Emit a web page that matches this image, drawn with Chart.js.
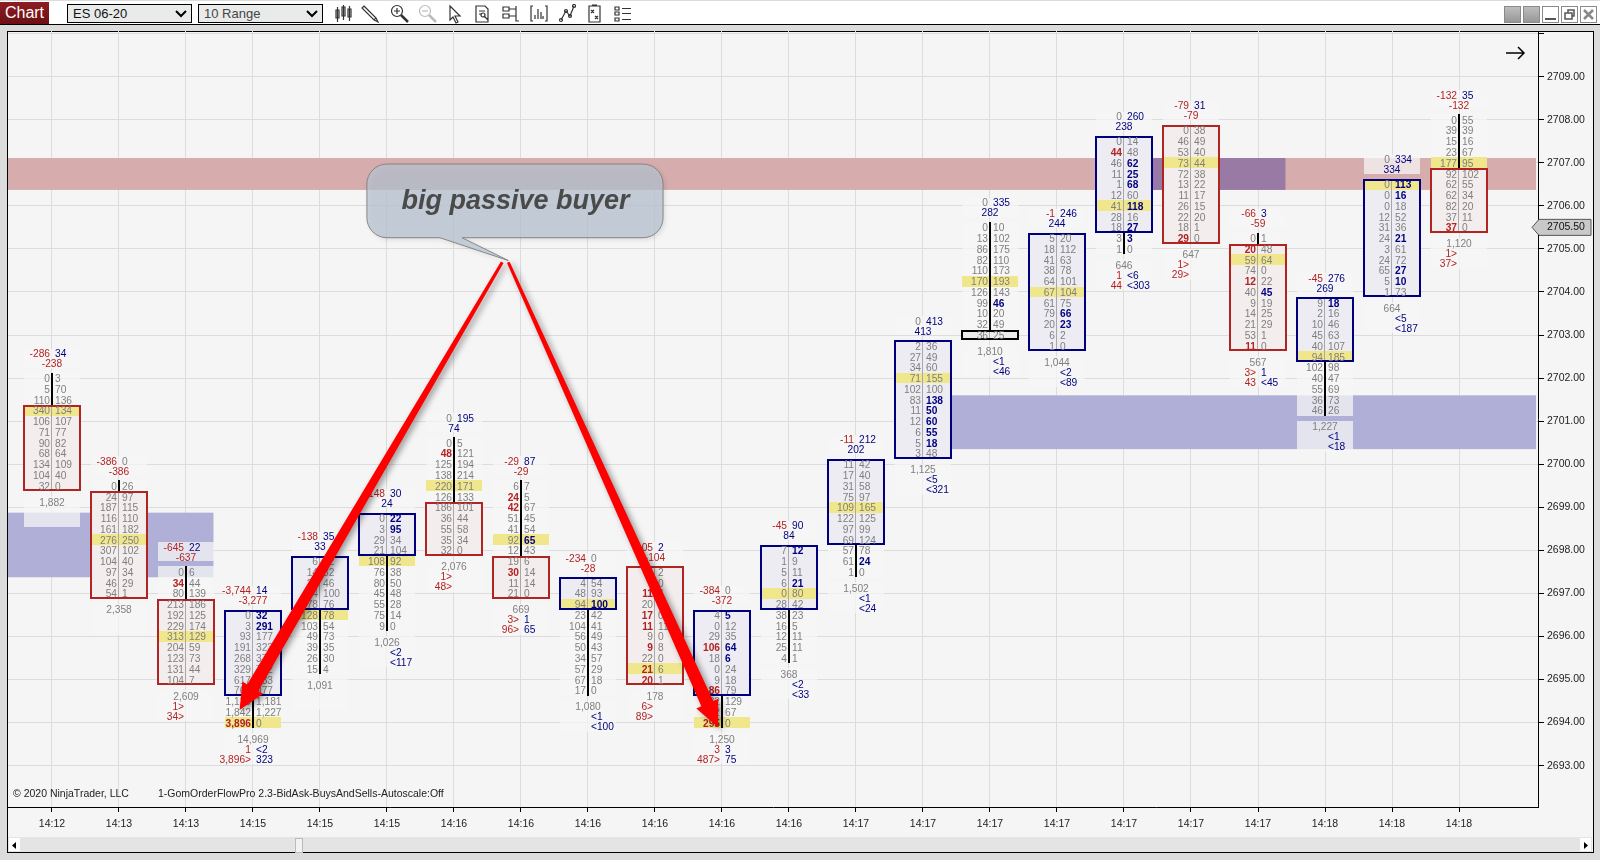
<!DOCTYPE html>
<html>
<head>
<meta charset="utf-8">
<title>ES 06-20 order flow</title>
<script src="https://cdn.jsdelivr.net/npm/chart.js@4"></script>
<style>
  html, body { margin: 0; width: 1600px; height: 860px; overflow: hidden; background: #dcdcdc; font-family: "Liberation Sans", Arial, sans-serif; }
  #toolbar { position: absolute; left: 0; top: 1px; width: 1600px; height: 23px; background: #fff; border-bottom: 1px solid #000; }
  #tab { position: absolute; left: 0; top: 1px; width: 49px; height: 22px; background: linear-gradient(#8e1c22, #6c1013); color: #fff; font-size: 16px; line-height: 22px; text-align: center; }
  .pick { position: absolute; top: 3px; width: 123px; height: 17px; border: 1px solid #000; background: #e9ebeb; font-size: 13px; line-height: 18px; text-indent: 5px; color: #111; }
  .pick svg { position: absolute; right: 4px; top: 5px; }
  .tool { position: absolute; top: 3px; }
  .tool * { fill: none; stroke: #333; stroke-width: 1.2; }
  .win { position: absolute; top: 5px; width: 15px; height: 15px; border: 1px solid #8a8a8a; background: #fff; }
  .win.grey { background: linear-gradient(#bdbdbd, #989898); }
  #panel { position: absolute; left: 7px; top: 31px; width: 1585px; height: 820px; background: #f5f5f5; border: 1px solid #000; }
  #scroll { position: absolute; left: 8px; top: 837px; width: 1584px; height: 15px; background: #e4e4e4; }
  .sbtn { position: absolute; top: 1px; width: 11px; height: 13px; background: #fff; }
  #thumb { position: absolute; left: 287px; top: 1px; width: 6px; height: 13px; background: #f2f2f2; border: 1px solid #bbb; }
  canvas { position: absolute; left: 0; top: 0; }
</style>
</head>
<body>
<div id="toolbar">
  <div id="tab">Chart</div>
  <div class="pick" style="left:67px">ES 06-20<svg width="12" height="8"><path d="M1 1 L6 6 L11 1" fill="none" stroke="#000" stroke-width="2"/></svg></div>
  <div class="pick" style="left:198px;color:#444">10 Range<svg width="12" height="8"><path d="M1 1 L6 6 L11 1" fill="none" stroke="#000" stroke-width="2"/></svg></div>
  <svg class="tool" style="left:334px" width="18" height="20"><path d="M2 6h3v8h-3zM3.500 3v15M8 3h3v9h-3zM9.500 1v15M14 5h3v8h-3zM15.500 2v15"/></svg>
  <svg class="tool" style="left:360px" width="20" height="20"><path d="M4 2l12 12-2 2-12-12zM14 16l4 2-2-4"/></svg>
  <svg class="tool" style="left:390px" width="20" height="20"><circle cx="7" cy="7" r="5.500"/><path d="M4 7h6M7 4v6"/><path d="M11 11l7 7" style="stroke-width:2.500"/></svg>
  <svg class="tool" style="left:418px" width="20" height="20"><circle cx="7" cy="7" r="5.500" style="stroke:#bbb"/><path d="M4 7h6" style="stroke:#bbb"/><path d="M11 11l7 7" style="stroke:#bbb;stroke-width:2.500"/></svg>
  <svg class="tool" style="left:447px" width="16" height="20"><path d="M3 2v14l3-3 3 6 2-1-3-6h5z"/></svg>
  <svg class="tool" style="left:474px" width="18" height="20"><path d="M2 2h9l3 3v13h-12zM5 7h6M5 10h3M10 12l4 4"/><circle cx="9" cy="11" r="2"/></svg>
  <svg class="tool" style="left:502px" width="18" height="20"><path d="M1 3h6v4h-6zM1 10h6v4h-6zM7 5h7M7 12h7M14 2v15h3"/></svg>
  <svg class="tool" style="left:530px" width="18" height="20"><path d="M3 2h-2v15h2M15 2h2v15h-2M5 15v-4M8 15v-10M11 15v-7M13 15v-3"/></svg>
  <svg class="tool" style="left:558px" width="18" height="20"><path d="M3 16l5-9 4 5 4-10"/><circle cx="3" cy="16" r="1.500"/><circle cx="8" cy="7" r="1.500"/><circle cx="12" cy="12" r="1.500"/><circle cx="16" cy="2" r="1.500"/></svg>
  <svg class="tool" style="left:587px" width="16" height="20"><path d="M2 2h11v16h-11zM5 1h5M4 6l3 3M7 6l-3 3M8 12l3 3M11 12l-3 3"/></svg>
  <svg class="tool" style="left:614px" width="18" height="20"><path d="M1 3h4v3h-4zM1 8h4v3h-4zM1 14h4v3h-4zM8 4.500h9M8 9.500h9M8 15.500h9"/></svg>
  <div class="win grey" style="left:1504px"></div>
  <div class="win grey" style="left:1523px"></div>
  <div class="win" style="left:1542px"><svg width="15" height="15"><path d="M2 12h11" stroke="#555" stroke-width="2"/></svg></div>
  <div class="win" style="left:1561px"><svg width="15" height="15"><path d="M3 6h7v6h-7zM6 6v-3h6v6h-2" fill="none" stroke="#555" stroke-width="1.500"/></svg></div>
  <div class="win" style="left:1580px"><svg width="15" height="15"><path d="M3 3l9 9M12 3l-9 9" stroke="#888" stroke-width="2.500"/></svg></div>
</div>
<div id="panel"></div>
<div id="scroll">
  <div class="sbtn" style="left:1px"><svg width="11" height="13"><path d="M7 3v7l-4-3.500z" fill="#000"/></svg></div>
  <div id="thumb"></div>
  <div class="sbtn" style="right:1px"><svg width="11" height="13"><path d="M4 3v7l4-3.500z" fill="#000"/></svg></div>
</div>
<canvas id="chart" width="1600" height="860"></canvas>
<script>
const timeLabels = ['14:12','14:13','14:13','14:15','14:15','14:15','14:16','14:16','14:16','14:16','14:16','14:16','14:17','14:17','14:17','14:17','14:17','14:17','14:17','14:18','14:18','14:18'];
const priceTicks = [2693,2694,2695,2696,2697,2698,2699,2700,2701,2702,2703,2704,2705,2706,2707,2708,2709,2710];
const currentPrice = 2705.5;

// price of the first row of each bar
const topPrice = [2702,2699.5,2697.5,2696.5,2697.75,2698.75,2700.5,2699.5,2697.25,2697.5,2696.5,2698,2700,2702.75,2705.5,2705.25,2707.5,2707.75,2705.25,2703.75,2706.5,2708];

const bidRows = [
  [0,5,110,340,106,71,90,68,134,104,32],
  [0,24,187,116,161,276,307,104,97,46,54],
  [0,34,80,213,192,229,313,204,123,131,104],
  [0,3,93,191,268,329,617,765,1120,1842,3896],
  [6,14,23,64,78,128,103,49,39,26,15],
  [0,3,29,21,108,76,80,45,55,75,9],
  [0,48,125,138,220,126,186,36,55,35,32],
  [6,24,42,51,41,92,12,19,30,11,21],
  [4,48,94,23,104,56,50,34,57,67,17],
  [5,7,11,20,17,11,9,9,22,21,20],
  [4,0,29,106,18,0,9,86,32,12,295],
  [7,1,5,6,0,28,38,16,12,25,4],
  [11,17,31,75,109,122,97,69,57,61,1],
  [2,27,34,71,102,83,11,12,6,5,3],
  [0,13,86,82,110,170,126,99,10,32,36],
  [5,18,41,38,64,67,61,79,20,6,1],
  [0,44,46,11,1,12,41,28,18,3,1],
  [0,46,53,73,72,13,11,26,22,18,29],
  [0,20,59,74,12,40,9,14,21,53,11],
  [9,2,10,45,40,94,102,40,55,36,46],
  [0,0,0,12,31,24,3,24,65,5,1],
  [0,39,15,23,177,92,62,62,82,37,37]
];
const askRows = [
  [3,70,136,134,107,77,82,64,109,40,0],
  [26,97,115,110,182,250,102,40,34,29,1],
  [6,44,139,186,125,174,129,59,73,44,7],
  [32,291,177,323,371,742,933,977,1181,1227,0],
  [12,32,46,100,76,78,54,73,35,30,4],
  [22,95,34,104,92,38,50,48,28,14,0],
  [5,121,194,214,171,133,101,44,58,34,0],
  [7,5,67,45,54,65,43,6,14,14,0],
  [54,93,100,42,41,49,43,57,29,18,0],
  [2,0,4,8,0,11,0,8,0,6,1],
  [5,12,35,64,6,24,18,79,129,67,0],
  [12,9,11,21,80,42,23,5,11,11,1],
  [42,40,58,97,165,125,99,124,78,24,0],
  [36,49,60,155,100,138,50,60,55,18,48],
  [10,102,175,110,173,193,143,46,20,49,25],
  [20,112,63,78,101,104,75,66,23,2,0],
  [14,48,62,25,68,60,118,16,27,3,0],
  [38,49,40,44,38,22,17,15,20,1,0],
  [1,48,64,0,22,45,19,25,29,1,0],
  [18,16,46,63,107,185,98,47,69,73,26],
  [113,16,18,52,36,21,61,72,27,10,73],
  [55,39,16,67,95,102,55,34,20,11,0]
];
// rows printed in bold
const boldBid = [[],[],[1],[10],[],[],[1],[1,2,8],[],[2,4,5,7,9,10],[3,7,10],[],[],[],[],[],[1],[10],[1,4,10],[],[],[10]];
const boldAsk = [[],[],[],[0,1],[],[0,1],[],[5],[2],[],[0,3,4],[0,3],[9],[5,6,7,8,9],[7],[7,8],[2,3,4,6,8,9],[],[5],[0],[0,1,5,8,9],[]];

const pocRow = [3,5,6,10,5,4,4,5,2,9,10,4,4,3,5,5,6,3,2,5,0,4];
const bodyFirst = [3,1,3,0,0,0,6,7,0,0,0,0,0,0,10,0,0,0,1,0,0,5];
const bodyLast = [10,10,10,7,4,3,10,10,2,10,7,5,7,10,10,10,8,10,10,5,10,10];
const bodyDir = ['down','down','down','up','up','up','down','down','up','down','up','up','up','up','flat','up','up','down','down','up','up','down'];

const headerLeft = ['-286','-386','-645','-3,744','-138','-148','0','-29','-234','-105','-384','-45','-11','0','0','-1','0','-79','-66','-45','0','-132'];
const headerRight = ['34','0','22','14','35','30','195','87','0','2','0','90','212','413','335','246','260','31','3','276','334','35'];
const headerDelta = ['-238','-386','-637','-3,277','33','24','74','-29','-28','-104','-372','84','202','413','282','244','238','-79','-59','269','334','-132'];

const footerTotal = ['1,882','2,358','2,609','14,969','1,091','1,026','2,076','669','1,080','178','1,250','368','1,502','1,125','1,810','1,044','646','647','567','1,227','664','1,120'];
const footer2Left = ['','','1>','1','','','1>','3>','','6>','3','','','','','','1','1>','3>','','','1>'];
const footer2Right = ['','','','<2','','<2','','1','<1','','3','<2','<1','<5','<1','<2','<6','','1','<1','<5',''];
const footer3Left = ['','','34>','3,896>','','','48>','96>','','89>','487>','','','','','','44','29>','43','','','37>'];
const footer3Right = ['','','','323','','<117','','65','<100','','75','<33','<24','<321','<46','<89','<303','','<45','<18','<187',''];

// shaded zones, in bar index and price
const zoneNames = ['supply','demandLeft','demandRight','overlap'];
const zoneFromBar = [-0.657,-0.657,13,16];
const zoneToBar = [22.15,2.41,22.15,18.41];
const zoneHigh = [2707.11,2698.875,2701.6,2707.11];
const zoneLow = [2706.37,2697.375,2700.35,2706.37];

// drawn annotation, also in bar index and price
const arrowTailBar = [6.72,6.81];
const arrowTailPrice = [2704.69,2704.69];
const arrowTipBar = [2.80,9.94];
const arrowTipPrice = [2694.29,2693.89];
const calloutBars = [4.70,9.12];
const calloutPrices = [2706.97,2705.26];
const calloutTailBars = [5.79,6.81,6.12];
const calloutTailPrices = [2705.26,2704.73,2705.26];
const calloutText = 'big passive buyer';

const ROW = 0.25;
const AREA_TOP = 31, AREA_H = 776;
const X_MIN = -0.6567, X_MAX = 22.1791, Y_MIN = 2692.04, Y_MAX = 2710.06;
const PX_PRICE = (Y_MAX - Y_MIN) / AREA_H;
const FONT = '"Liberation Sans", Arial, sans-serif';
const GREY = '#7f7f7f', RED = '#b22222', NAVY = '#00007f';
const ZONE_COLORS = { supply: '#d6acac', demandLeft: '#afafd7', demandRight: '#afafd7', overlap: '#987aa4' };
const BODY_FILL = { up: '#edecf3', down: '#f3eded', flat: '#ececec' };
const BODY_LINE = { up: '#00007f', down: '#b02424', flat: '#000000' };

const rowPrice = (i, r) => topPrice[i] - r * ROW;
const bars = timeLabels.map((_, i) => i);
const fmt = n => n.toLocaleString('en-US');
const lastRow = i => bidRows[i].length - 1;

// keeps the edges of a range on whole pixels so the outlines stay crisp
function snap(p) {
  const px = Math.round(AREA_TOP + (Y_MAX - p) / PX_PRICE);
  return Y_MAX - (px - AREA_TOP) * PX_PRICE;
}

function floating(fn, shift = 0) {
  return bars.map(i => {
    const r = fn(i);
    return r ? { x: i + shift, y: [snap(r[0]), snap(r[1])] } : null;
  }).filter(Boolean);
}

function barSet(data, color, thickness, order, extra) {
  return {
    type: 'bar',
    data,
    backgroundColor: color,
    barThickness: thickness,
    grouped: false,
    order,
    inflateAmount: 0,
    borderSkipped: false,
    ...extra,
  };
}

const bodyRange = i => [rowPrice(i, bodyLast[i]) - ROW / 2, rowPrice(i, bodyFirst[i]) + ROW / 2];

const datasets = [
  // text backings
  barSet(floating(i => [rowPrice(i, 0) + ROW / 2 + 5 * PX_PRICE, rowPrice(i, 0) + ROW / 2 + 24 * PX_PRICE]), 'rgba(245,245,245,.75)', 56, 9),
  barSet(floating(i => [rowPrice(i, lastRow(i)) - ROW / 2, rowPrice(i, 0) + ROW / 2]), 'rgba(245,245,245,.75)', 56, 9),
  barSet(floating(i => [rowPrice(i, lastRow(i)) - ROW / 2 - 36 * PX_PRICE, rowPrice(i, lastRow(i)) - ROW / 2 - 5 * PX_PRICE]), 'rgba(245,245,245,.75)', 56, 9),
  // body fill, point of control, wicks, body outline
  barSet(floating(bodyRange), bars.map(i => BODY_FILL[bodyDir[i]]), 56, 8),
  barSet(floating(i => [rowPrice(i, pocRow[i]) - ROW / 2, rowPrice(i, pocRow[i]) + ROW / 2]), '#f0e68c', 56, 7),
  barSet(floating(i => bodyFirst[i] > 0 ? [rowPrice(i, bodyFirst[i]) + ROW / 2, rowPrice(i, 0) + ROW / 2] : null), '#000', 2, 6),
  barSet(floating(i => bodyLast[i] < lastRow(i) ? [rowPrice(i, lastRow(i)) - ROW / 2, rowPrice(i, bodyLast[i]) - ROW / 2] : null), '#000', 2, 6),
  barSet(floating(bodyRange, -0.5 / 67), '#a8a8a8', 1, 5),
  barSet(floating(bodyRange), 'rgba(0,0,0,0)', 58, 4, {
    borderColor: floating(bodyRange).map(p => BODY_LINE[bodyDir[p.x]]),
    borderWidth: 2,
  }),
];

const zonePlugin = {
  id: 'zones',
  beforeDatasetsDraw(chart) {
    const { ctx, scales: { x, y } } = chart;
    zoneNames.forEach((name, k) => {
      ctx.fillStyle = ZONE_COLORS[name];
      const x0 = x.getPixelForValue(zoneFromBar[k]);
      const y0 = y.getPixelForValue(zoneHigh[k]);
      ctx.fillRect(x0, y0, x.getPixelForValue(zoneToBar[k]) - x0, y.getPixelForValue(zoneLow[k]) - y0);
    });
  },
};

function put(ctx, str, px, py, align, color, bold) {
  if (str === '') return;
  ctx.font = (bold ? 'bold ' : '') + '10.2px ' + FONT;
  ctx.textAlign = align;
  ctx.textBaseline = 'middle';
  ctx.fillStyle = color;
  ctx.fillText(str, px, Math.round(py) + 1);
}

function signColor(str) {
  if (str === '0') return GREY;
  return str[0] === '-' ? RED : NAVY;
}

const textPlugin = {
  id: 'footprintText',
  afterDatasetsDraw(chart) {
    const { ctx, scales: { x, y } } = chart;
    bars.forEach(i => {
      const cx = x.getPixelForValue(i);
      const left = cx - 2, right = cx + 3;
      bidRows[i].forEach((bid, r) => {
        const py = y.getPixelForValue(rowPrice(i, r));
        const bb = boldBid[i].includes(r), ba = boldAsk[i].includes(r);
        put(ctx, fmt(bid), left, py, 'right', bb ? RED : GREY, bb);
        put(ctx, fmt(askRows[i][r]), right, py, 'left', ba ? NAVY : GREY, ba);
      });
      const first = y.getPixelForValue(rowPrice(i, 0));
      put(ctx, headerLeft[i], left, first - 25, 'right', signColor(headerLeft[i]));
      put(ctx, headerRight[i], right, first - 25, 'left', signColor(headerRight[i]));
      put(ctx, headerDelta[i], cx, first - 15, 'center', signColor(headerDelta[i]));
      const last = y.getPixelForValue(rowPrice(i, lastRow(i)));
      put(ctx, footerTotal[i], cx, last + 16, 'center', GREY);
      put(ctx, footer2Left[i], left, last + 26, 'right', RED);
      put(ctx, footer2Right[i], right, last + 26, 'left', NAVY);
      put(ctx, footer3Left[i], left, last + 36, 'right', RED);
      put(ctx, footer3Right[i], right, last + 36, 'left', NAVY);
    });

    ctx.font = '10.5px ' + FONT;
    ctx.textAlign = 'left';
    ctx.textBaseline = 'middle';
    ctx.fillStyle = '#222';
    const b = chart.chartArea.bottom - 13;
    ctx.fillText('\u00a9 2020 NinjaTrader, LLC', 13, b);
    ctx.fillText('1-GomOrderFlowPro 2.3-BidAsk-BuysAndSells-Autoscale:Off', 158, b);
  },
};

function drawArrow(ctx, x0, y0, x1, y1) {
  const len = Math.hypot(x1 - x0, y1 - y0);
  const ux = (x1 - x0) / len, uy = (y1 - y0) / len;
  const nx = -uy, ny = ux;
  const headLen = 26, headHalf = 12, startHalf = 1.5, endHalf = 6.5;
  const bx = x1 - ux * headLen, by = y1 - uy * headLen;
  ctx.beginPath();
  ctx.moveTo(x0 + nx * startHalf, y0 + ny * startHalf);
  ctx.lineTo(bx + nx * endHalf, by + ny * endHalf);
  ctx.lineTo(bx + nx * headHalf, by + ny * headHalf);
  ctx.lineTo(x1, y1);
  ctx.lineTo(bx - nx * headHalf, by - ny * headHalf);
  ctx.lineTo(bx - nx * endHalf, by - ny * endHalf);
  ctx.lineTo(x0 - nx * startHalf, y0 - ny * startHalf);
  ctx.closePath();
  ctx.fill();
}

const annotationPlugin = {
  id: 'annotation',
  afterDatasetsDraw(chart) {
    const { ctx, scales: { x, y }, chartArea } = chart;
    ctx.save();

    // callout
    const cl = x.getPixelForValue(calloutBars[0]), cr = x.getPixelForValue(calloutBars[1]);
    const ct = y.getPixelForValue(calloutPrices[0]), cb = y.getPixelForValue(calloutPrices[1]);
    const tail = calloutTailBars.map((b, k) => [x.getPixelForValue(b), y.getPixelForValue(calloutTailPrices[k])]);
    const r = 20;
    ctx.beginPath();
    ctx.moveTo(cl + r, ct);
    ctx.arcTo(cr, ct, cr, cb, r);
    ctx.arcTo(cr, cb, cl, cb, r);
    ctx.lineTo(tail[2][0], cb);
    ctx.lineTo(tail[1][0], tail[1][1]);
    ctx.lineTo(tail[0][0], cb);
    ctx.arcTo(cl, cb, cl, ct, r);
    ctx.arcTo(cl, ct, cr, ct, r);
    ctx.closePath();
    ctx.shadowColor = 'rgba(0,0,0,.15)';
    ctx.shadowBlur = 5;
    ctx.shadowOffsetX = 2;
    ctx.shadowOffsetY = 2;
    ctx.fillStyle = 'rgba(184,195,211,.74)';
    ctx.fill();
    ctx.shadowColor = 'transparent';
    ctx.strokeStyle = '#858585';
    ctx.lineWidth = 1;
    ctx.stroke();
    ctx.fillStyle = '#4a4a4a';
    ctx.font = 'italic bold 27px ' + FONT;
    ctx.textAlign = 'center';
    ctx.textBaseline = 'alphabetic';
    ctx.fillText(calloutText, (cl + cr) / 2 + 0.5, ct + 45);

    // red arrows
    ctx.shadowColor = 'rgba(0,0,0,.4)';
    ctx.shadowBlur = 6;
    ctx.shadowOffsetX = 3;
    ctx.shadowOffsetY = 2;
    ctx.fillStyle = '#ff0000';
    arrowTipBar.forEach((b, k) => {
      drawArrow(ctx,
        x.getPixelForValue(arrowTailBar[k]), y.getPixelForValue(arrowTailPrice[k]),
        x.getPixelForValue(b), y.getPixelForValue(arrowTipPrice[k]));
    });
    ctx.restore();

    // chart trader arrow, top right
    ctx.strokeStyle = '#000';
    ctx.lineWidth = 1.5;
    ctx.beginPath();
    ctx.moveTo(chartArea.right - 32, chartArea.top + 22);
    ctx.lineTo(chartArea.right - 14, chartArea.top + 22);
    ctx.moveTo(chartArea.right - 20, chartArea.top + 16);
    ctx.lineTo(chartArea.right - 14, chartArea.top + 22);
    ctx.lineTo(chartArea.right - 20, chartArea.top + 28);
    ctx.stroke();

    // current price tag
    const py = y.getPixelForValue(currentPrice);
    const ax = chartArea.right;
    ctx.fillStyle = '#c9c9c9';
    ctx.strokeStyle = '#555';
    ctx.lineWidth = 1;
    ctx.beginPath();
    ctx.moveTo(ax - 6, py);
    ctx.lineTo(ax + 1, py - 8);
    ctx.lineTo(ax + 53, py - 8);
    ctx.lineTo(ax + 53, py + 8);
    ctx.lineTo(ax + 1, py + 8);
    ctx.closePath();
    ctx.fill();
    ctx.stroke();
    ctx.fillStyle = '#111';
    ctx.font = '10.5px ' + FONT;
    ctx.textAlign = 'left';
    ctx.textBaseline = 'middle';
    ctx.fillText(currentPrice.toFixed(2), ax + 9, py);
  },
};

new Chart(document.getElementById('chart'), {
  data: { datasets },
  plugins: [zonePlugin, textPlugin, annotationPlugin],
  options: {
    responsive: false,
    animation: false,
    layout: { padding: { left: 8, top: 31, right: 7, bottom: 24 } },
    plugins: { legend: { display: false }, tooltip: { enabled: false } },
    scales: {
      x: {
        type: 'linear',
        offset: false,
        min: X_MIN,
        max: X_MAX,
        afterBuildTicks: s => { s.ticks = bars.map(v => ({ value: v })); },
        afterFit: s => { s.height = 29; },
        border: { color: '#000', width: 1 },
        grid: { offset: false, color: '#dcdcdc', tickColor: '#000', tickLength: 5 },
        ticks: {
          autoSkip: false,
          maxRotation: 0,
          padding: 6,
          color: '#222',
          font: { family: FONT, size: 10.5 },
          callback: v => timeLabels[v],
        },
      },
      y: {
        type: 'linear',
        position: 'right',
        min: Y_MIN,
        max: Y_MAX,
        afterBuildTicks: s => { s.ticks = priceTicks.map(v => ({ value: v })); },
        afterFit: s => { s.width = 55; },
        border: { color: '#000', width: 1 },
        grid: { color: '#dcdcdc', tickColor: '#000', tickLength: 6 },
        ticks: {
          autoSkip: false,
          padding: 3,
          color: '#222',
          font: { family: FONT, size: 10.5 },
          callback: v => (v === 2710 ? '' : v.toFixed(2)),
        },
      },
    },
  },
});
</script>
</body>
</html>
